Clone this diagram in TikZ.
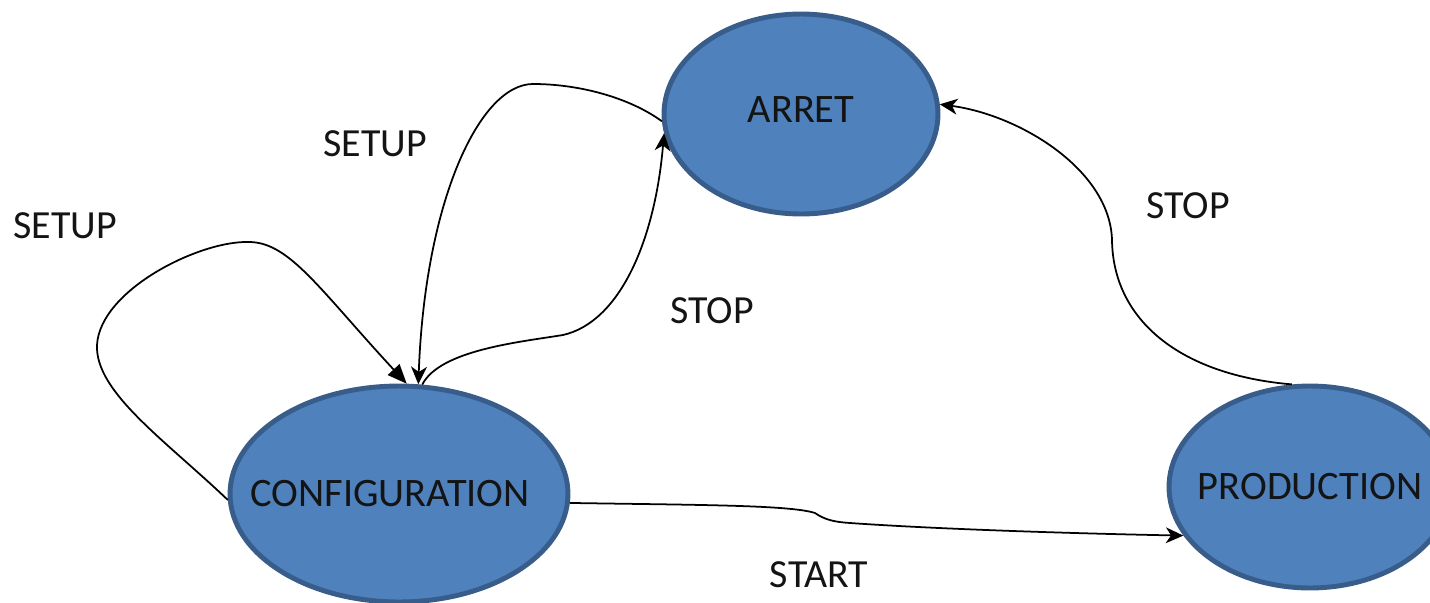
\documentclass[tikz,border=0pt]{standalone}
\usepackage{fontspec}
\setmainfont{Carlito}
\usetikzlibrary{shapes.geometric,arrows.meta}
\definecolor{statefill}{HTML}{4F81BD}
\definecolor{stateedge}{HTML}{385D8A}
\definecolor{ink}{HTML}{141414}
\begin{document}
\begin{tikzpicture}[x=0.02cm,y=-0.02cm,
  state/.style={ellipse, draw=stateedge, fill=statefill, line width=2.8pt,
    inner sep=0pt, text=ink, font=\fontsize{23}{27}\selectfont},
  lbl/.style={text=ink, font=\fontsize{22.7}{27}\selectfont, inner sep=0pt},
  conn/.style={line width=1pt, -{Stealth[length=10pt,width=9pt,inset=3pt]}},
  loopconn/.style={line width=1pt, -{Triangle[length=11pt,width=9pt]}}]
\useasboundingbox (0,0) rectangle (1430,602);
\clip (0,0) rectangle (1430,602);

% states (text boxed at zero width so the ellipse keeps its set size)
\node[state, minimum width=5.48cm, minimum height=4.0cm] (arret) at (801,114)
  {\makebox[0pt]{\raisebox{5pt}{ARRET}}};
\node[state, minimum width=6.76cm, minimum height=4.32cm] (config) at (399,494)
  {\makebox[0pt]{CONFIGURATION\hspace{10pt}}};
\node[state, minimum width=5.64cm, minimum height=4.04cm] (prod) at (1310,487)
  {\makebox[0pt]{PRODUCTION}};

% transitions
\draw[loopconn] (config.182) .. controls (165,440) and (95,392) .. (97,345)
  .. controls (100,290) and (200,240) .. (250,242)
  .. controls (290,243) and (320,290) .. (config.86);
\draw[conn] (arret.183) .. controls (630,98) and (580,84) .. (533,84)
  .. controls (480,84) and (425,200) .. (config.80);
\draw[conn] (config.78) .. controls (440,350) and (520,342) .. (563,335)
  .. controls (620,322) and (655,240) .. (arret.188);
\draw[conn] (prod.100) .. controls (1180,375) and (1113,320) .. (1112,240)
  .. controls (1110,170) and (1020,115) .. (arret.4);
\draw[conn] (config.357) .. controls (700,505) and (790,505) .. (815,513)
  .. controls (825,520) and (835,522) .. (850,523)
  .. controls (950,530) and (1100,534) .. (prod.201);

% transition labels
\node[lbl] (l1) at (65,226) {SETUP};
\node[lbl] (l2) at (375,144) {SETUP};
\node[lbl] (l3) at (712,311) {STOP};
\node[lbl] (l4) at (1188,206) {STOP};
\node[lbl] (l5) at (819,575) {START};
\end{tikzpicture}
\end{document}
